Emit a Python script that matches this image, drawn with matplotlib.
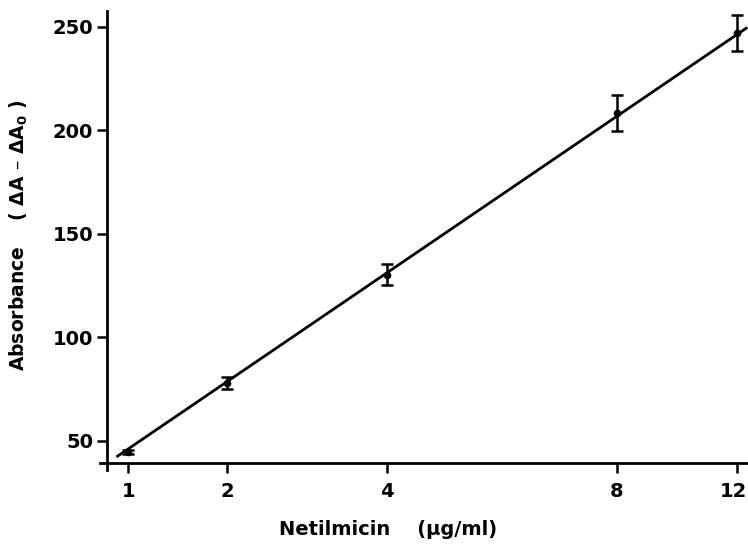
import numpy as np
import matplotlib
matplotlib.use("Agg")
import matplotlib.pyplot as plt
from matplotlib.transforms import ScaledTranslation

# netilmicin concentration (ug/ml) and absorbance readings
conc = [1, 2, 4, 8, 12]
absorb = [44.7, 78.0, 130.2, 208.5, 247.0]
err = [1.0, 3.0, 5.0, 8.7, 8.7]

# fitted line end points
line_x = [0.878, 12.33]
line_y = [42.3, 249.6]

tick_vals = [1, 2, 4, 8, 12]
tick_labels = ["1", "2", "4", "8", "12"]
y_ticks = [50, 100, 150, 200, 250]

# the printed x axis is spaced unevenly; map values onto their printed position
scale_vals = np.array([0.0, 1, 2, 4, 8, 12, 14])
scale_pos = np.array([-0.985, 0.0, 0.985, 2.585, 4.885, 6.095, 6.700])


def fwd(x):
    return np.interp(x, scale_vals, scale_pos)


def inv(p):
    return np.interp(p, scale_pos, scale_vals)


plt.rcParams['font.family'] = 'DejaVu Sans'
plt.rcParams['font.weight'] = 'bold'
plt.rcParams['mathtext.fontset'] = 'dejavusans'

fig = plt.figure(figsize=(7.48, 5.49), dpi=100)
ax = fig.add_axes([0.1337, 0.1439, 0.8663, 0.836])
ax.set_xscale('function', functions=(fwd, inv))

ax.plot(line_x, line_y, color='black', lw=2.0, solid_capstyle='butt')
ax.errorbar(conc, absorb, yerr=err, fmt='o', color='black', ms=4.5,
            elinewidth=1.8, capsize=4, capthick=1.8)

ax.set_xlim(0.711, 12.35)
ax.set_ylim(36.0, 257.5)

for s in ['top', 'right']:
    ax.spines[s].set_visible(False)
ax.spines['left'].set_position(('data', 0.782))
ax.spines['bottom'].set_position(('data', 39.4))
ax.spines['left'].set_linewidth(2.0)
ax.spines['bottom'].set_linewidth(2.0)

ax.set_xticks(tick_vals)
ax.set_xticklabels(tick_labels)
ax.xaxis.set_minor_locator(matplotlib.ticker.NullLocator())
ax.set_yticks(y_ticks)
ax.tick_params(axis='x', direction='out', length=7, width=1.8, pad=7, labelsize=14)
ax.tick_params(axis='y', direction='out', length=7, width=1.8, pad=3, labelsize=14)
for lab in ax.get_xticklabels() + ax.get_yticklabels():
    lab.set_fontweight('bold')
# last label sits right at the figure edge
last = ax.get_xticklabels()[-1]
last.set_transform(last.get_transform() + ScaledTranslation(-4 / 100, 0, fig.dpi_scale_trans))

ax.set_xlabel("Netilmicin    (\u00b5g/ml)", fontsize=14, fontweight='bold')
ax.xaxis.set_label_coords(0.444, -0.108)
ax.set_ylabel("Absorbance    ( \u0394A \u2013 \u0394A$_\\mathbf{0}$ )", fontsize=13.5,
              fontweight='bold')
ax.yaxis.set_label_coords(-0.108, 0.512)

fig.savefig("out.png", dpi=100)
